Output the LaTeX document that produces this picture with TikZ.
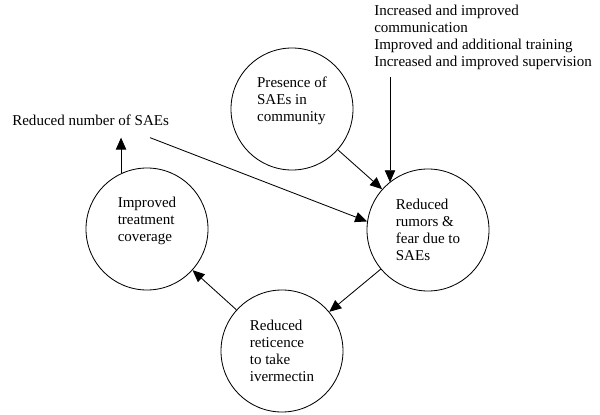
\documentclass[tikz,border=0pt]{standalone}
\usepackage{fontspec}
\setmainfont{Liberation Serif}
\usetikzlibrary{arrows.meta,positioning,calc}

\begin{document}
\begin{tikzpicture}[
  stage/.style={draw, circle, line width=0.6pt, minimum size=3.05cm,
                inner sep=0pt, align=left, font=\fontsize{10.7}{12.1}\selectfont},
  lbl/.style={inner sep=0pt, align=left, font=\fontsize{10.7}{12.1}\selectfont},
  arr/.style={-{Triangle[length=0.3cm,width=0.26cm]}, line width=0.6pt}]
  \useasboundingbox (0,0) rectangle (15,10.35);
  \node[stage] (pres) at (7.30,7.625) {Presence of\\SAEs in\\community\\[2pt]\mbox{}};
  \node[stage] (rum) at (10.70,4.60) {Reduced\\rumors \&\\fear due to\\SAEs};
  \node[stage] (imp) at (3.675,4.625) {Improved\\treatment\\coverage\\[2pt]\mbox{}};
  \node[stage] (ret) at (7.05,1.575) {Reduced\\reticence\\to take\\ivermectin};
  \node[lbl, anchor=west] (red) at (0.30,7.35) {Reduced number of SAEs};
  \node[lbl, anchor=west] (ctrl) at (9.35,9.425)
    {Increased and improved\\communication\\Improved and additional training\\Increased and improved supervision};
  \coordinate (inp) at ([shift={(0.4,-0.18)}]ctrl.south west);
  \coordinate (fb) at ([shift={(-0.48,-0.3)}]red.south east);
  \draw[arr] (inp) -- (inp |- rum.129);
  \draw[arr] (pres) -- (rum);
  \draw[arr] (fb) -- (rum.172);
  \draw[arr] (rum) -- (ret);
  \draw[arr] (ret) -- (imp);
  \draw[arr, shorten >=0.3cm] (imp.115) -- (imp.115 |- red.south);
\end{tikzpicture}
\end{document}
